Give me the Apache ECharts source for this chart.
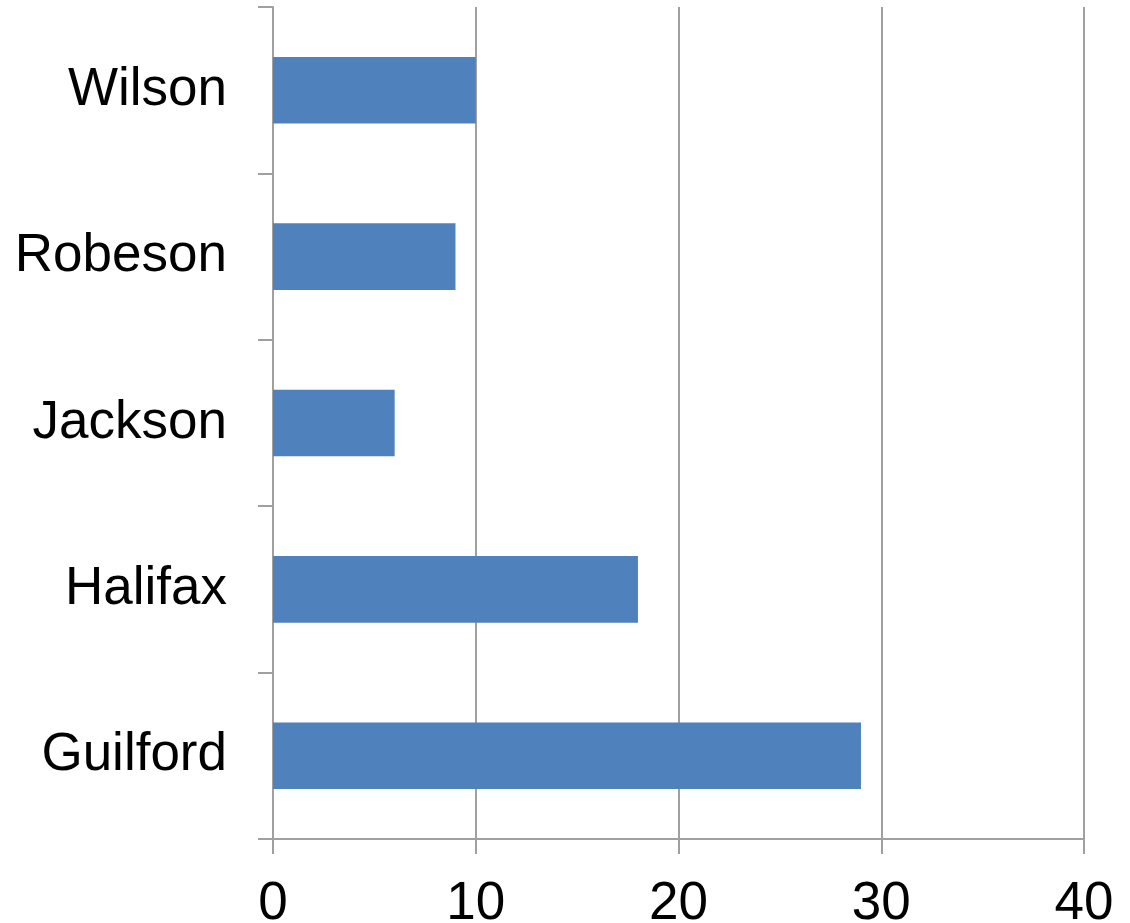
<!DOCTYPE html>
<html>
<head>
<meta charset="utf-8">
<script src="https://cdn.jsdelivr.net/npm/echarts@6/dist/echarts.min.js"></script>
<style>
  html, body { margin: 0; padding: 0; background: #fff; }
  #chart { width: 1130px; height: 923px; }
</style>
</head>
<body>
<div id="chart"></div>
<script>
// Counties, listed bottom to top on the category axis
const counties = ['Guilford', 'Halifax', 'Jackson', 'Robeson', 'Wilson'];
const counts = [29, 18, 6, 9, 10];
const xTicks = { min: 0, max: 40, step: 10 };

const lineGray = '#a0a0a0';
const labelFont = { color: '#000', fontFamily: '"Liberation Sans", Arial, sans-serif', fontSize: 53 };

const chart = echarts.init(document.getElementById('chart'), null, { renderer: 'canvas' });
chart.setOption({
  animation: false,
  backgroundColor: '#fff',
  grid: { left: 273, right: 46, top: 7, bottom: 84, containLabel: false, outerBoundsMode: 'none' },
  xAxis: {
    type: 'value',
    min: xTicks.min,
    max: xTicks.max,
    interval: xTicks.step,
    axisLine: { show: true, lineStyle: { color: lineGray, width: 2 } },
    axisTick: { show: true, length: 15, lineStyle: { color: lineGray, width: 2 } },
    splitLine: { show: true, lineStyle: { color: lineGray, width: 2 } },
    axisLabel: Object.assign({ margin: 39, lineHeight: 53, hideOverlap: false }, labelFont)
  },
  yAxis: {
    type: 'category',
    data: counties,
    axisLine: { show: true, lineStyle: { color: lineGray, width: 2 } },
    axisTick: { show: true, length: 15, lineStyle: { color: lineGray, width: 2 } },
    splitLine: { show: false },
    axisLabel: Object.assign({ margin: 46, padding: [5, 0, 0, 0] }, labelFont)
  },
  series: [{
    type: 'bar',
    data: counts,
    barWidth: '40%',
    itemStyle: { color: '#4f81bd' },
    z: 1
  }]
});
</script>
</body>
</html>
